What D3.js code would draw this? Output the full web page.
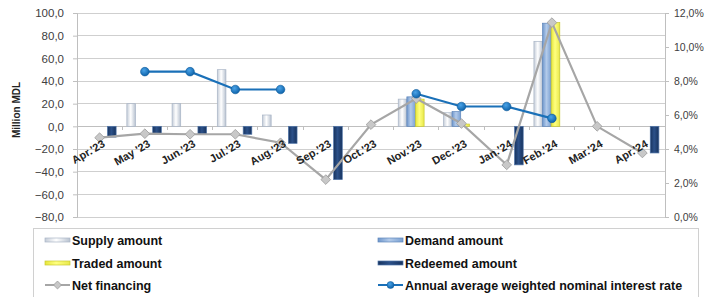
<!DOCTYPE html>
<html><head><meta charset="utf-8">
<script src="https://cdn.jsdelivr.net/npm/d3@7"></script>
<style>body{margin:0;background:#fff}svg{display:block}</style>
</head><body><svg id="c" width="705" height="297"></svg>
<script>
const categories = ["Apr.'23","May '23","Jun.'23","Jul.'23","Aug.'23","Sep.'23","Oct.'23","Nov.'23","Dec.'23","Jan.'24","Feb.'24","Mar.'24","Apr.'24"];
const supplyAmount   = [0, 20, 20, 50, 10, 0, 0, 24, 12, 0, 75, 0, 0];
const demandAmount   = [0, 0, 0, 0, 0, 0, 0, 26, 13, 0, 91, 0, 0];
const tradedAmount   = [0, 0, 0, 0, 0, 0, 0, 24, 2, 0, 91.5, 0, 0];
const redeemedAmount = [-9.5, -7, -7, -7, -15, -47, 0, 0, 0, -34, 0, 0, -23.5];
const netFinancing   = [-10, -6.5, -7, -7, -14.5, -47, 1.5, 24.5, 2.5, -34, 91.5, 0, -23.5];
const interestRate   = [null, 8.55, 8.55, 7.5, 7.5, null, null, 7.25, 6.5, 6.5, 5.8, null, null];
const leftTicks  = [-80,-60,-40,-20,0,20,40,60,80,100];
const rightTicks = [0,2,4,6,8,10,12];
const seriesNames = ["Supply amount","Demand amount","Traded amount","Redeemed amount"];

const svg = d3.select("#c");
const font = "'Liberation Sans', Arial, sans-serif";
const L = 77, R = 665, T = 13, B = 217;

const x = d3.scaleBand().domain(categories).range([L, R]).padding(0);
const y = d3.scaleLinear().domain([-80, 100]).range([B, T]);
const y2 = d3.scaleLinear().domain([0, 12]).range([B, T]);
const xs = d3.scaleBand().domain(seriesNames).range([-18, 16.5]).padding(0);

// gradients
const defs = svg.append("defs");
function hgrad(id, stops){
  const g = defs.append("linearGradient").attr("id", id).attr("x1","0").attr("x2","1").attr("y1","0").attr("y2","0");
  stops.forEach(s => g.append("stop").attr("offset", s[0]).attr("stop-color", s[1]));
}
hgrad("gSup", [[0,"#c4ccd8"],[0.45,"#ffffff"],[1,"#b8c2d0"]]);
hgrad("gDem", [[0,"#6f97cc"],[0.45,"#b3cbea"],[1,"#7aa0d2"]]);
hgrad("gTra", [[0,"#e6e63a"],[0.45,"#ffff80"],[1,"#e8e84a"]]);
hgrad("gRed", [[0,"#17335e"],[0.45,"#2c5189"],[1,"#17335e"]]);
const rg = defs.append("radialGradient").attr("id","gDot").attr("cx","0.4").attr("cy","0.35").attr("r","0.7");
rg.append("stop").attr("offset",0).attr("stop-color","#4aa3e8");
rg.append("stop").attr("offset",1).attr("stop-color","#0a5fa6");

// gridlines
svg.append("g").selectAll("line").data(leftTicks).join("line")
  .attr("x1", L).attr("x2", R).attr("y1", d => y(d)).attr("y2", d => y(d))
  .attr("stroke", "#cfcfcf").attr("stroke-width", 1).attr("shape-rendering","crispEdges");

// left axis
const ga = svg.append("g").attr("transform", `translate(${L},0)`)
  .call(d3.axisLeft(y).tickValues(leftTicks).tickSize(4).tickPadding(9).tickFormat(d => d3.format(".1f")(d).replace(".", ",")));
ga.select(".domain").attr("stroke", "#bfbfbf");
ga.selectAll(".tick line").attr("stroke", "#bfbfbf");
ga.selectAll("text").attr("font-family", font).attr("font-size", "11.5px").attr("fill", "#404040");

// right axis
const gr = svg.append("g").attr("transform", `translate(${R},0)`)
  .call(d3.axisRight(y2).tickValues(rightTicks).tickSize(4).tickPadding(5).tickFormat(d => d3.format(".1f")(d).replace(".", ",") + "%"));
gr.select(".domain").attr("stroke", "#bfbfbf");
gr.selectAll(".tick line").attr("stroke", "#bfbfbf");
gr.selectAll("text").attr("font-family", font).attr("font-size", "10.5px").attr("fill", "#404040");

// y title
svg.append("text").attr("transform", "translate(20,110) rotate(-90)")
  .attr("text-anchor", "middle").attr("font-family", font).attr("font-weight", "bold")
  .attr("font-size", "10px").attr("fill", "#222").text("Million MDL");

// x axis line at zero
svg.append("line").attr("x1", L).attr("x2", R).attr("y1", y(0)).attr("y2", y(0))
  .attr("stroke", "#bfbfbf").attr("shape-rendering","crispEdges");
svg.append("g").selectAll("line").data(categories.slice(1)).join("line")
  .attr("x1", d => x(d)).attr("x2", d => x(d)).attr("y1", y(0)).attr("y2", y(0) + 4)
  .attr("stroke", "#bfbfbf").attr("shape-rendering","crispEdges");

// bars
const barSeries = [
  {name: "Supply amount", vals: supplyAmount, fill: "url(#gSup)", stroke: "#a9b5c6"},
  {name: "Demand amount", vals: demandAmount, fill: "url(#gDem)", stroke: "#5e86bb"},
  {name: "Traded amount", vals: tradedAmount, fill: "url(#gTra)", stroke: "#c8c830"},
  {name: "Redeemed amount", vals: redeemedAmount, fill: "url(#gRed)", stroke: "#4f74a8"}
];
barSeries.forEach(s => {
  svg.append("g").selectAll("rect").data(categories.map((c, i) => ({c, v: s.vals[i]})).filter(d => d.v !== 0))
    .join("rect")
    .attr("x", d => x(d.c) + x.bandwidth() / 2 + xs(s.name))
    .attr("width", xs.bandwidth())
    .attr("y", d => y(Math.max(0, d.v)))
    .attr("height", d => Math.abs(y(d.v) - y(0)))
    .attr("fill", s.fill).attr("stroke", s.stroke).attr("stroke-width", 0.7);
});

const cx = c => x(c) + x.bandwidth() / 2;

// net financing line
const netData = categories.map((c, i) => ({c, v: netFinancing[i]}));
svg.append("path").datum(netData)
  .attr("d", d3.line().x(d => cx(d.c)).y(d => y(d.v)))
  .attr("fill", "none").attr("stroke", "#a6a6a6").attr("stroke-width", 2.2);
svg.append("g").selectAll("path").data(netData).join("path")
  .attr("transform", d => `translate(${cx(d.c)},${y(d.v)})`)
  .attr("d", d3.symbol(d3.symbolDiamond2, 60))
  .attr("fill", "#c8c8c8").attr("stroke", "#9a9a9a").attr("stroke-width", 0.8);

// interest rate line
const rateData = categories.map((c, i) => ({c, v: interestRate[i]}));
svg.append("path").datum(rateData)
  .attr("d", d3.line().defined(d => d.v !== null).x(d => cx(d.c)).y(d => y2(d.v)))
  .attr("fill", "none").attr("stroke", "#1a70b8").attr("stroke-width", 2.2);
svg.append("g").selectAll("circle").data(rateData.filter(d => d.v !== null)).join("circle")
  .attr("cx", d => cx(d.c)).attr("cy", d => y2(d.v)).attr("r", 4.3)
  .attr("fill", "url(#gDot)").attr("stroke", "#0b5a9c").attr("stroke-width", 0.6);

// category labels
svg.append("g").selectAll("text").data(categories).join("text")
  .attr("transform", d => `translate(${cx(d) + 3},${y(0) + 14}) rotate(-30)`)
  .attr("text-anchor", "end").attr("dy", "0.6em")
  .attr("font-family", font).attr("font-weight", "bold").attr("font-size", "11px").attr("fill", "#222")
  .text(d => d);

// legend
svg.append("rect").attr("x", 33.5).attr("y", 228.5).attr("width", 665).attr("height", 80)
  .attr("fill", "#fff").attr("stroke", "#d0d0d0");
const legendItems = [
  {name: "Supply amount", type: "bar", fill: "url(#gSup)", stroke: "#a9b5c6", col: 0, row: 0},
  {name: "Demand amount", type: "bar", fill: "url(#gDem)", stroke: "#5e86bb", col: 1, row: 0},
  {name: "Traded amount", type: "bar", fill: "url(#gTra)", stroke: "#c8c830", col: 0, row: 1},
  {name: "Redeemed amount", type: "bar", fill: "url(#gRed)", stroke: "#4f74a8", col: 1, row: 1},
  {name: "Net financing", type: "net", col: 0, row: 2},
  {name: "Annual average weighted nominal interest rate", type: "rate", col: 1, row: 2}
];
const colX = [45, 378];
const rowY = [239, 262, 284];
legendItems.forEach(it => {
  const g = svg.append("g").attr("transform", `translate(${colX[it.col]},${rowY[it.row]})`);
  if (it.type === "bar") {
    g.append("rect").attr("x", 0).attr("y", -1).attr("width", 25).attr("height", 4)
      .attr("fill", it.fill).attr("stroke", it.stroke).attr("stroke-width", 0.7);
  } else if (it.type === "net") {
    g.append("line").attr("x1", 0).attr("x2", 25).attr("y1", 1).attr("y2", 1).attr("stroke", "#a6a6a6").attr("stroke-width", 2);
    g.append("path").attr("transform", "translate(12.5,1)").attr("d", d3.symbol(d3.symbolDiamond2, 40))
      .attr("fill", "#c8c8c8").attr("stroke", "#9a9a9a").attr("stroke-width", 0.8);
  } else {
    g.append("line").attr("x1", 0).attr("x2", 25).attr("y1", 1).attr("y2", 1).attr("stroke", "#1a70b8").attr("stroke-width", 2);
    g.append("circle").attr("cx", 12.5).attr("cy", 1).attr("r", 3.5).attr("fill", "url(#gDot)").attr("stroke", "#0b5a9c").attr("stroke-width", 0.5);
  }
  g.append("text").attr("x", 27).attr("y", 5.5)
    .attr("font-family", font).attr("font-weight", "bold").attr("font-size", "12.5px").attr("fill", "#111")
    .text(it.name);
});
</script></body></html>
